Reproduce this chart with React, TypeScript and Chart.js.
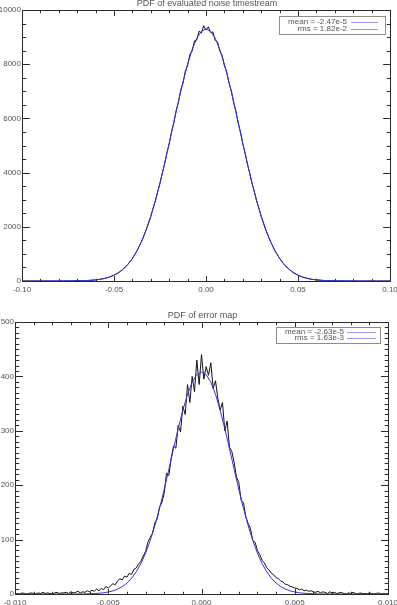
import React, { useEffect, useRef } from "react";
import { Chart, registerables } from "chart.js";
Chart.register(...registerables);

// ---------- Top chart: PDF of evaluated noise timestream ----------
const topFitX0 = -0.1;
const topFitStep = 0.0025;
const topFitCounts = [
  0, 0, 0, 0, 0, 0, 0, 0, 1, 1, 2, 4, 6, 10, 16, 26, 41, 63, 97, 145, 214, 308, 437, 609, 831,
  1113, 1464, 1888, 2391, 2970, 3620, 4331, 5084, 5857, 6622, 7346, 7997, 8543, 8956, 9213, 9300,
  9213, 8956, 8543, 7997, 7346, 6622, 5857, 5084, 4331, 3620, 2970, 2391, 1888, 1464, 1113,
  831, 609, 437, 308, 214, 145, 97, 63, 41, 26, 16, 10, 6, 4, 2, 1, 1, 0, 0, 0, 0, 0, 0, 0, 0,
];

const topHistLeftX0 = -0.1;
const topHistLeftStep = 0.0025;
const topHistLeft = [
  0, 0, 1, 0, 0, 1, 0, 2, 1, 3, 2, 5, 7, 11, 15, 27, 40, 65, 95, 148, 212, 310, 433, 612, 828,
  1118, 1460, 1892,
];
const topHistCenterX0 = -0.03;
const topHistCenterStep = 0.00125;
const topHistCenter = [
  2380, 2690, 2955, 3300, 3610, 3985, 4310, 4730, 5060, 5500, 5830, 6280, 6590, 7040, 7300,
  7740, 7950, 8360, 8490, 8860, 8900, 9220, 9150, 9420, 9260, 9380, 9170, 9190, 8880, 8820,
  8480, 8330, 7940, 7720, 7300, 7020, 6590, 6270, 5830, 5490, 5060, 4720, 4310, 3980, 3605,
  3300, 2960, 2680, 2385,
];
const topHistRightX0 = 0.0325;
const topHistRightStep = 0.0025;
const topHistRight = [
  1885, 1468, 1110, 835, 605, 440, 305, 216, 143, 99, 61, 42, 25, 17, 9, 6, 4, 2, 1, 0, 1, 0, 0,
  1, 0, 0, 0, 0,
];

const topXTicks = [-0.1, -0.05, 0, 0.05, 0.1];
const topXTickLabels = ["-0.10", "-0.05", "0.00", "0.05", "0.10"];
const topYTicks = [0, 2000, 4000, 6000, 8000, 10000];
const topYTickLabels = ["0", "2000", "4000", "6000", "8000", "10000"];
const topLegend = ["mean = -2.47e-5", "rms = 1.82e-2"];

// ---------- Bottom chart: PDF of error map ----------
const botFitX0 = -0.01;
const botFitStep = 0.00025;
const botFitCounts = [
  0, 0, 0, 0, 0, 0, 0, 0, 0, 0, 0, 0, 0, 0, 0, 0.2, 0.5, 0.8, 1.4, 2.3, 3.7, 5.8, 9.0, 13.6,
  20.1, 28.9, 40.7, 55.9, 75.0, 98.3, 125.8, 157.4, 192.2, 229.3, 267.2, 304.0, 338.0, 367.0,
  389.3, 403.2, 408, 403.2, 389.3, 367.0, 338.0, 304.0, 267.2, 229.3, 192.2, 157.4, 125.8, 98.3,
  75.0, 55.9, 40.7, 28.9, 20.1, 13.6, 9.0, 5.8, 3.7, 2.3, 1.4, 0.8, 0.5, 0.2, 0, 0, 0, 0, 0, 0,
  0, 0, 0, 0, 0, 0, 0, 0, 0,
];

const botHistX0 = -0.01;
const botHistStep = 0.000125;
const botHistCounts = [
  0, 1, 0, 2, 1, 0, 1, 2, 1, 0, 2, 1, 3, 1, 2, 1, 0, 2, 3, 1, 2,
  2, 3, 1, 4, 2, 3, 5, 2, 4, 3, 6, 4,
  7, 5, 9, 6, 10, 8, 14, 11,
  15, 19, 17, 24, 28, 26, 33, 31,
  38, 36, 45, 48, 55, 60, 70, 78,
  95, 104, 112, 131, 138, 160, 168, 185, 222, 218, 250, 272, 268, 310, 298, 345, 330, 385, 352,
  400, 372, 430, 385, 440,
  395, 418, 402, 425, 378, 392, 360, 338, 352, 300, 318, 270, 262, 242, 215, 205, 172, 168, 142,
  130, 120, 98, 95, 80,
  72, 62, 57, 48, 44, 38, 35, 30, 28, 24, 22, 18, 17, 14, 13, 11, 10, 8, 9, 6, 7, 5, 6, 4,
  3, 5, 2, 4, 3, 1, 4, 2, 3, 1, 2, 3, 1, 0, 2, 1, 3, 1, 0, 2, 1, 1, 0, 2, 1, 0, 1, 2, 0, 1, 0, 1,
];

const botXTicks = [-0.01, -0.005, 0, 0.005, 0.01];
const botXTickLabels = ["-0.010", "-0.005", "0.000", "0.005", "0.010"];
const botYTicks = [0, 100, 200, 300, 400, 500];
const botYTickLabels = ["0", "100", "200", "300", "400", "500"];
const botLegend = ["mean = -2.63e-5", "rms = 1.63e-3"];

// ---------- helpers ----------
const toPoints = (x0: number, step: number, ys: number[]) =>
  ys.map((y, i) => ({ x: x0 + i * step, y }));

const FIT_COLOR = "#3232e6";
const HIST_COLOR = "#111111";
const LEGEND_LINE = "#9a9af5";
const FRAME = "#2a2a2a";
const TEXT = "#555555";
const FONT = '"Liberation Sans", Arial, sans-serif';

type Deco = {
  title: string;
  titleY: number;
  xMin: number;
  xMax: number;
  xMinor: number;
  xTicks: number[];
  xLabels: string[];
  yMin: number;
  yMax: number;
  yMinor: number;
  yTicks: number[];
  yLabels: string[];
  legend: string[];
  legendBox: [number, number, number, number];
  legendTextRight: number;
  legendLineX: [number, number];
  legendRowsY: [number, number];
};

function makeDecoPlugin(d: Deco) {
  return {
    id: "deco",
    afterDraw(chart: any) {
      const ctx: CanvasRenderingContext2D = chart.ctx;
      const { left, right, top, bottom } = chart.chartArea;
      const xs = chart.scales.x;
      const ys = chart.scales.y;
      const h = bottom - top;
      const w = right - left;
      const xMajLen = 0.02 * h;
      const yMajLen = 0.02 * w;
      ctx.save();
      ctx.strokeStyle = FRAME;
      ctx.lineWidth = 1;
      ctx.strokeRect(left + 0.5, top + 0.5, w, h);

      const xTick = (v: number, len: number) => {
        const px = Math.round(xs.getPixelForValue(v)) + 0.5;
        ctx.beginPath();
        ctx.moveTo(px, bottom + 0.5);
        ctx.lineTo(px, bottom + 0.5 - len);
        ctx.moveTo(px, top + 0.5);
        ctx.lineTo(px, top + 0.5 + len);
        ctx.stroke();
      };
      const yTick = (v: number, len: number) => {
        const py = Math.round(ys.getPixelForValue(v)) + 0.5;
        ctx.beginPath();
        ctx.moveTo(left + 0.5, py);
        ctx.lineTo(left + 0.5 + len, py);
        ctx.moveTo(right + 0.5, py);
        ctx.lineTo(right + 0.5 - len, py);
        ctx.stroke();
      };
      const nx = Math.round((d.xMax - d.xMin) / d.xMinor);
      for (let k = 0; k <= nx; k++) xTick(d.xMin + k * d.xMinor, xMajLen / 2);
      d.xTicks.forEach((v) => xTick(v, xMajLen));
      const ny = Math.round((d.yMax - d.yMin) / d.yMinor);
      for (let k = 0; k <= ny; k++) yTick(d.yMin + k * d.yMinor, yMajLen / 2);
      d.yTicks.forEach((v) => yTick(v, yMajLen));

      // tick labels
      ctx.fillStyle = TEXT;
      ctx.font = `8px ${FONT}`;
      ctx.textAlign = "center";
      ctx.textBaseline = "middle";
      d.xTicks.forEach((v, i) => {
        ctx.fillText(d.xLabels[i], xs.getPixelForValue(v), bottom + 9);
      });
      ctx.textAlign = "right";
      d.yTicks.forEach((v, i) => {
        ctx.fillText(d.yLabels[i], left - 1, ys.getPixelForValue(v));
      });

      // title
      ctx.font = `9px ${FONT}`;
      ctx.textAlign = "center";
      ctx.fillText(d.title, (left + right) / 2 + 1, d.titleY);

      // legend
      const [bx0, by0, bx1, by1] = d.legendBox;
      ctx.strokeStyle = "#8c8c8c";
      ctx.strokeRect(bx0 + 0.5, by0 + 0.5, bx1 - bx0, by1 - by0);
      ctx.font = `8px ${FONT}`;
      ctx.textAlign = "right";
      ctx.fillStyle = TEXT;
      d.legend.forEach((t, i) => {
        const yy = d.legendRowsY[i];
        ctx.fillText(t, d.legendTextRight, yy);
        ctx.strokeStyle = LEGEND_LINE;
        ctx.beginPath();
        ctx.moveTo(d.legendLineX[0], yy + 0.5);
        ctx.lineTo(d.legendLineX[1], yy + 0.5);
        ctx.stroke();
      });
      ctx.restore();
    },
  };
}

function PdfChart(props: {
  width: number;
  height: number;
  top: number;
  padding: { left: number; right: number; top: number; bottom: number };
  fit: { x: number; y: number }[];
  hist: { x: number; y: number }[];
  deco: Deco;
}) {
  const ref = useRef<HTMLCanvasElement | null>(null);
  useEffect(() => {
    if (!ref.current) return;
    const d = props.deco;
    const chart = new Chart(ref.current, {
      type: "line",
      data: {
        datasets: [
          {
            data: props.fit,
            borderColor: FIT_COLOR,
            borderWidth: 1,
            pointRadius: 0,
            tension: 0,
            fill: false,
            order: 0,
          },
          {
            data: props.hist,
            borderColor: HIST_COLOR,
            borderWidth: 1,
            pointRadius: 0,
            tension: 0,
            fill: false,
            order: 1,
          },
        ],
      },
      options: {
        responsive: false,
        animation: false,
        layout: { padding: props.padding },
        plugins: { legend: { display: false }, tooltip: { enabled: false }, title: { display: false } },
        scales: {
          x: { type: "linear", min: d.xMin, max: d.xMax, display: false },
          y: { type: "linear", min: d.yMin, max: d.yMax, display: false },
        },
      },
      plugins: [makeDecoPlugin(d)],
    } as any);
    return () => chart.destroy();
  }, []);
  return (
    <canvas
      ref={ref}
      width={props.width}
      height={props.height}
      style={{ position: "absolute", left: 0, top: props.top, display: "block" }}
    />
  );
}

export default function App() {
  const topHist = [
    ...toPoints(topHistLeftX0, topHistLeftStep, topHistLeft),
    ...toPoints(topHistCenterX0, topHistCenterStep, topHistCenter),
    ...toPoints(topHistRightX0, topHistRightStep, topHistRight),
  ];
  const topFit = toPoints(topFitX0, topFitStep, topFitCounts);
  const botHist = toPoints(botHistX0, botHistStep, botHistCounts);
  const botFit = toPoints(botFitX0, botFitStep, botFitCounts);

  const topDeco: Deco = {
    title: "PDF of evaluated noise timestream",
    titleY: 4,
    xMin: -0.1,
    xMax: 0.1,
    xMinor: 0.01,
    xTicks: topXTicks,
    xLabels: topXTickLabels,
    yMin: 0,
    yMax: 10000,
    yMinor: 500,
    yTicks: topYTicks,
    yLabels: topYTickLabels,
    legend: topLegend,
    legendBox: [279, 16, 385, 34],
    legendTextRight: 347,
    legendLineX: [351, 378],
    legendRowsY: [22, 29],
  };
  const botDeco: Deco = {
    title: "PDF of error map",
    titleY: 16,
    xMin: -0.01,
    xMax: 0.01,
    xMinor: 0.001,
    xTicks: botXTicks,
    xLabels: botXTickLabels,
    yMin: 0,
    yMax: 500,
    yMinor: 10,
    yTicks: botYTicks,
    yLabels: botYTickLabels,
    legend: botLegend,
    legendBox: [276, 27, 380, 43],
    legendTextRight: 344,
    legendLineX: [347, 376],
    legendRowsY: [32, 38],
  };

  return (
    <div
      style={{
        position: "absolute",
        left: 0,
        top: 0,
        width: 397,
        height: 605,
        background: "#ffffff",
        overflow: "hidden",
      }}
    >
      <PdfChart
        width={397}
        height={300}
        top={0}
        padding={{ left: 22, right: 7, top: 10, bottom: 19 }}
        fit={topFit}
        hist={topHist}
        deco={topDeco}
      />
      <PdfChart
        width={397}
        height={305}
        top={300}
        padding={{ left: 15, right: 9, top: 22, bottom: 11 }}
        fit={botFit}
        hist={botHist}
        deco={botDeco}
      />
    </div>
  );
}
